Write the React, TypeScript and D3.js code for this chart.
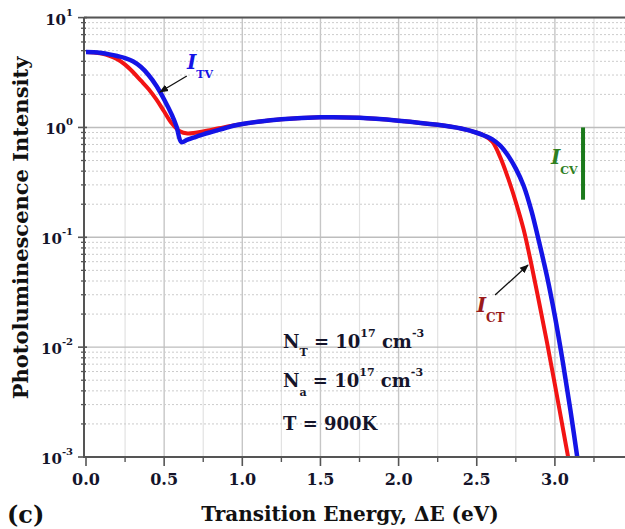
import React from "react";
import * as d3 from "d3";

// ---- data ----
const redEnergy = [0, 0.05, 0.1, 0.15, 0.2, 0.25, 0.3, 0.35, 0.4, 0.45, 0.5, 0.55, 0.6, 0.65, 0.7, 0.75, 0.8, 0.85, 0.9, 0.95, 1.0, 1.1, 1.25, 1.5, 1.75, 2.0, 2.25, 2.4, 2.5, 2.55, 2.6, 2.65, 2.7, 2.75, 2.8, 2.85, 2.9, 2.95, 3.0, 3.05, 3.1];
const redIntensity = [4.853, 4.819, 4.699, 4.487, 4.169, 3.733, 3.199, 2.679, 2.239, 1.799, 1.396, 1.084, 0.923, 0.881, 0.895, 0.92, 0.951, 0.982, 1.014, 1.047, 1.076, 1.127, 1.186, 1.236, 1.225, 1.153, 1.057, 0.977, 0.895, 0.841, 0.741, 0.537, 0.347, 0.209, 0.1175, 0.0562, 0.0251, 0.01096, 0.00457, 0.00186, 0.000759];

const blueEnergy = [0, 0.05, 0.1, 0.15, 0.2, 0.25, 0.3, 0.35, 0.4, 0.45, 0.5, 0.55, 0.58, 0.61, 0.65, 0.7, 0.75, 0.8, 0.85, 0.9, 0.95, 1.0, 1.1, 1.25, 1.5, 1.75, 2.0, 2.25, 2.4, 2.5, 2.55, 2.6, 2.65, 2.7, 2.75, 2.8, 2.85, 2.9, 2.95, 3.0, 3.05, 3.1, 3.15];
const blueIntensity = [4.853, 4.831, 4.753, 4.624, 4.467, 4.285, 4.009, 3.565, 3.006, 2.399, 1.799, 1.294, 1.012, 0.736, 0.773, 0.818, 0.865, 0.908, 0.951, 0.995, 1.042, 1.076, 1.127, 1.186, 1.236, 1.225, 1.153, 1.057, 0.977, 0.895, 0.841, 0.78, 0.684, 0.556, 0.422, 0.295, 0.174, 0.0891, 0.0437, 0.0191, 0.00741, 0.00263, 0.000851];

const xTicks = [0, 0.5, 1.0, 1.5, 2.0, 2.5, 3.0, 3.5];
const xMinorTicks = [0.25, 0.75, 1.25, 1.75, 2.25, 2.75, 3.25];
const yExponents = [-3, -2, -1, 0, 1];

// I_CV bar (energy, top, bottom)
const cvBar = { energy: 3.18, top: 1.0, bottom: 0.22 };

const W = 625;
const H = 529;
const left = 84;
const top = 17.6;
const bottom = 457;

export default function App() {
  const x = d3.scaleLinear().domain([0, 3.5]).range([86, 86 + 3.5 * 156.3]);
  const y = d3.scaleLog().domain([1e-3, 10]).range([bottom, top]);

  const line = d3
    .line<[number, number]>()
    .x((d) => x(d[0]))
    .y((d) => y(d[1]))
    .curve(d3.curveCatmullRom.alpha(0.5));

  const red: [number, number][] = redEnergy.map((e, i) => [e, redIntensity[i]]);
  const blue: [number, number][] = blueEnergy.map((e, i) => [e, blueIntensity[i]]);

  const yMinor: number[] = [];
  for (let e = -3; e < 1; e++) {
    for (let k = 2; k <= 9; k++) yMinor.push(k * Math.pow(10, e));
  }

  const serif = "'DejaVu Serif', serif";
  const textColor = "#14142a";

  return (
    <div style={{ position: "absolute", left: 0, top: 0 }}>
      <svg width={W} height={H} style={{ display: "block", background: "#fff" }} fontFamily={serif}>
        <defs>
          <clipPath id="plot">
            <rect x={left} y={top} width={W - left} height={bottom - top} />
          </clipPath>
          <marker id="arrow" viewBox="0 0 10 10" refX="9" refY="5" markerWidth="9" markerHeight="9" orient="auto" markerUnits="userSpaceOnUse">
            <path d="M0,1 L10,5 L0,9 Z" fill="#111" />
          </marker>
        </defs>

        {/* grid */}
        <g>
          {xMinorTicks.map((t) => (
            <line key={"gxm" + t} x1={x(t)} x2={x(t)} y1={top} y2={bottom} stroke="#e2e2e2" strokeWidth={1.2} />
          ))}
          {xTicks.filter((t) => t > 0).map((t) => (
            <line key={"gx" + t} x1={x(t)} x2={x(t)} y1={top} y2={bottom} stroke="#c6c6c6" strokeWidth={1.4} />
          ))}
          {yMinor.map((v) => (
            <line key={"gym" + v} x1={left} x2={W} y1={y(v)} y2={y(v)} stroke="#cccccc" strokeWidth={1} strokeDasharray="2,2" />
          ))}
          {yExponents.map((e) => (
            <line key={"gy" + e} x1={left} x2={W} y1={y(Math.pow(10, e))} y2={y(Math.pow(10, e))} stroke="#bdbdbd" strokeWidth={1.4} />
          ))}
        </g>

        {/* curves */}
        <g clipPath="url(#plot)">
          <path d={line(red) || ""} fill="none" stroke="#f21414" strokeWidth={4} strokeLinejoin="round" />
          <path d={line(blue) || ""} fill="none" stroke="#1414e6" strokeWidth={4.5} strokeLinejoin="round" />
        </g>

        {/* I_CV bar */}
        <line x1={x(cvBar.energy)} x2={x(cvBar.energy)} y1={y(cvBar.top)} y2={y(cvBar.bottom)} stroke="#1b7a1b" strokeWidth={4} />

        {/* axes */}
        <line x1={left} x2={W} y1={top} y2={top} stroke="#555" strokeWidth={2} />
        <line x1={left} x2={W} y1={bottom} y2={bottom} stroke="#555" strokeWidth={2} />
        <line x1={left} x2={left} y1={top} y2={bottom + 1} stroke="#555" strokeWidth={2} />

        {/* x ticks */}
        {xTicks.map((t) => (
          <g key={"xt" + t}>
            <line x1={x(t)} x2={x(t)} y1={bottom} y2={bottom + 9} stroke="#555" strokeWidth={1.6} />
            {t <= 3 && (
              <text x={x(t)} y={485} textAnchor="middle" fontSize={16} fontWeight="bold" fill={textColor}>
                {t.toFixed(1)}
              </text>
            )}
          </g>
        ))}
        {xMinorTicks.map((t) => (
          <line key={"xmt" + t} x1={x(t)} x2={x(t)} y1={bottom} y2={bottom + 5} stroke="#555" strokeWidth={1.4} />
        ))}

        {/* y ticks */}
        {yExponents.map((e) => (
          <g key={"yt" + e}>
            <line x1={left - 6} x2={left + 3} y1={y(Math.pow(10, e))} y2={y(Math.pow(10, e))} stroke="#555" strokeWidth={1.6} />
            <text x={73} y={y(Math.pow(10, e)) + 7} textAnchor="end" fontWeight="bold" fill={textColor} fontSize={15}>
              10
              <tspan dy={-9} fontSize={10}>{e < 0 ? "-" + Math.abs(e) : String(e)}</tspan>
            </text>
          </g>
        ))}
        {yMinor.map((v) => (
          <line key={"ymt" + v} x1={left - 3} x2={left + 2} y1={y(v)} y2={y(v)} stroke="#555" strokeWidth={1.3} />
        ))}

        {/* axis titles */}
        <text x={350} y={521} textAnchor="middle" fontSize={20} fontWeight="bold" fill="#111">
          Transition Energy, ΔE (eV)
        </text>
        <text transform={`translate(28, ${228}) rotate(-90)`} textAnchor="middle" fontSize={21} fontWeight="bold" fill="#111">
          Photoluminescence Intensity
        </text>
        <text x={7} y={523} fontSize={24} fontWeight="bold" fill="#111">(c)</text>

        {/* I_TV label */}
        <text x={x(0.646)} y={y(3.4)} fill="#1414e6" fontWeight="bold">
          <tspan fontSize={20} fontStyle="italic">I</tspan>
          <tspan dy={9} fontSize={11}>TV</tspan>
        </text>
        <line x1={x(0.645)} y1={y(2.94)} x2={x(0.473)} y2={y(2.1)} stroke="#111" strokeWidth={1.3} markerEnd="url(#arrow)" />

        {/* I_CT label */}
        <text x={x(2.5)} y={y(0.021)} fill="#9a1a1a" fontWeight="bold">
          <tspan fontSize={20} fontStyle="italic">I</tspan>
          <tspan dy={10} fontSize={12}>CT</tspan>
        </text>
        <line x1={x(2.617)} y1={y(0.0298)} x2={x(2.828)} y2={y(0.0559)} stroke="#111" strokeWidth={1.3} markerEnd="url(#arrow)" />

        {/* I_CV label */}
        <text x={x(2.975)} y={y(0.46)} fill="#2f7f1f" fontWeight="bold">
          <tspan fontSize={20} fontStyle="italic">I</tspan>
          <tspan dy={10} fontSize={11}>CV</tspan>
        </text>

        {/* parameters */}
        <g fontWeight="bold" fill="#14142a">
          <text x={283} y={348} fontSize={18}>
            N<tspan dy={8} fontSize={11}>T</tspan>
            <tspan dy={-8} fontSize={18}> = 10</tspan>
            <tspan dy={-11} fontSize={11}>17</tspan>
            <tspan dy={11} fontSize={18}> cm</tspan>
            <tspan dy={-11} fontSize={11}>-3</tspan>
          </text>
          <text x={283} y={387} fontSize={18}>
            N<tspan dy={9} fontSize={11}>a</tspan>
            <tspan dy={-9} fontSize={18}> = 10</tspan>
            <tspan dy={-11} fontSize={11}>17</tspan>
            <tspan dy={11} fontSize={18}> cm</tspan>
            <tspan dy={-11} fontSize={11}>-3</tspan>
          </text>
          <text x={283} y={430} fontSize={18}>T = 900K</text>
        </g>
      </svg>
    </div>
  );
}
